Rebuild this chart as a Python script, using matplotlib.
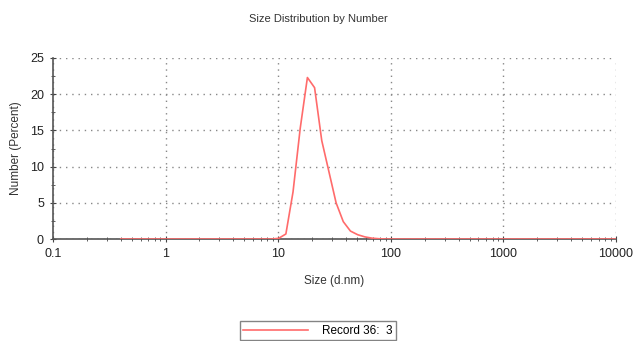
import numpy as np
import matplotlib
matplotlib.use("Agg")
import matplotlib.pyplot as plt
from matplotlib.ticker import LogLocator, FixedLocator, NullFormatter

plt.rcParams['font.family'] = ['Liberation Sans', 'DejaVu Sans']

# size bins (d.nm), Zetasizer style
sizes = [0.4, 0.4632, 0.5365, 0.6213, 0.7195, 0.8332, 0.9649, 1.117, 1.294, 1.499,
         1.736, 2.01, 2.328, 2.696, 3.122, 3.615, 4.187, 4.849, 5.615, 6.503,
         7.531, 8.721, 10.1, 11.7, 13.54, 15.69, 18.17, 21.04, 24.36, 28.21,
         32.67, 37.84, 43.82, 50.75, 58.77, 68.06, 78.82, 91.28, 105.7, 122.4,
         141.8, 164.2, 190.1, 220.2, 255.0, 295.3, 342.0, 396.1, 458.7, 531.2,
         615.1, 712.4, 825.0, 955.4, 1106, 1281, 1484, 1718, 1990, 2305,
         2669, 3091, 3580, 4145, 4801, 5560, 6439, 7456, 8635, 10000]
# number percent
number_pct = [0] * 22 + [0.1, 0.7, 6.5, 15.3, 22.3, 20.9, 13.6, 9.3,
                         5.0, 2.4, 1.1, 0.6, 0.3, 0.12, 0.04] + [0] * 33

x_ticks = [0.1, 1, 10, 100, 1000, 10000]
x_labels = ["0.1", "1", "10", "100", "1000", "10000"]
y_ticks = [0, 5, 10, 15, 20, 25]

fig = plt.figure(figsize=(6.36, 3.41), dpi=100)
ax = fig.add_axes([0.0833, 0.299, 0.8853, 0.531])

ax.plot(sizes, number_pct, color="#ff6b6b", lw=1.2, label="Record 36:  3", zorder=3)

ax.set_xscale("log")
ax.set_xlim(0.1, 10000)
ax.set_ylim(0, 25)
ax.xaxis.set_major_locator(FixedLocator(x_ticks))
ax.set_xticklabels(x_labels)
ax.xaxis.set_minor_locator(LogLocator(base=10, subs=np.arange(2, 10), numticks=20))
ax.xaxis.set_minor_formatter(NullFormatter())
ax.set_yticks(y_ticks)
ax.set_yticks(np.arange(2.5, 25, 5), minor=True)

ax.grid(True, which="major", color="#888888", ls=(0, (1, 3.5)), lw=1.0)
for s in ["top", "right"]:
    ax.spines[s].set_visible(False)
for s in ["left", "bottom"]:
    ax.spines[s].set_color("#555555")
    ax.spines[s].set_linewidth(1.2)

ax.tick_params(which="major", direction="inout", length=5, color="#444444",
               labelsize=9, labelcolor="#222222", pad=4)
ax.tick_params(which="minor", direction="inout", length=3, color="#444444")

ax.set_xlabel("Size (d.nm)", fontsize=8.5, color="#333333", labelpad=11)
ax.set_ylabel("Number (Percent)", fontsize=8.5, color="#333333", labelpad=6)
fig.text(0.5, 0.945, "Size Distribution by Number", ha="center", va="center",
         fontsize=8, color="#333333")

leg = fig.legend(loc="center", bbox_to_anchor=(0.5, 0.03), fontsize=8.5,
                 frameon=True, fancybox=False, edgecolor="#666666",
                 handlelength=5.5, borderpad=0.3, handletextpad=1.2, borderaxespad=0)
leg.get_frame().set_linewidth(1.0)

fig.savefig("out.png", dpi=100)
